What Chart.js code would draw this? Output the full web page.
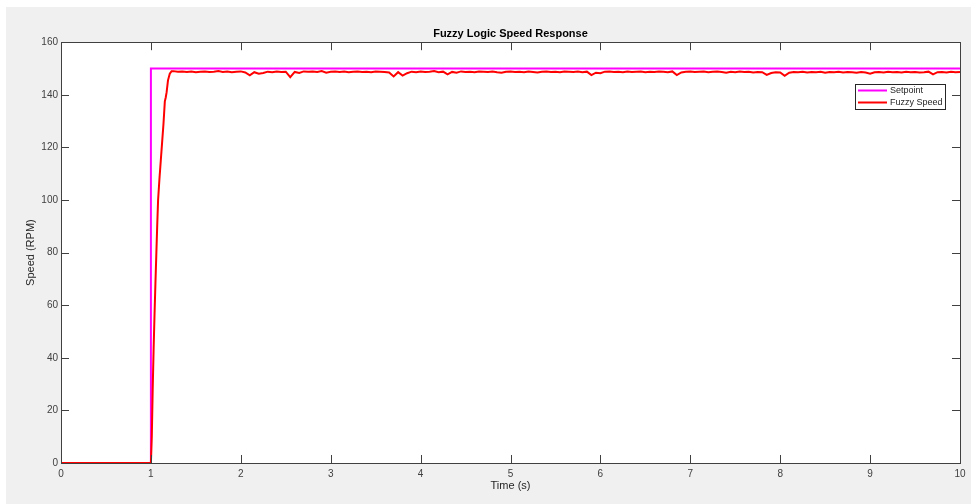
<!DOCTYPE html>
<html>
<head>
<meta charset="utf-8">
<script src="https://cdn.jsdelivr.net/npm/chart.js@4.4.1/dist/chart.umd.min.js"></script>
<style>
  body { margin: 0; background: #ffffff; }
  canvas { display: block; }
</style>
</head>
<body>
<canvas id="speedChart" width="971" height="504"></canvas>
<script>
// Setpoint (step at t = 1 s)
const setpointTime = [0, 1, 1, 10];
const setpointSpeed = [0, 0, 150, 150];

// Fuzzy speed - rise part
const riseTime = [0, 1.0, 1.01, 1.02, 1.03, 1.04, 1.05, 1.06, 1.07, 1.08, 1.095, 1.11, 1.125, 1.14, 1.155, 1.165, 1.175, 1.19, 1.21, 1.23];
const riseSpeed = [0, 0, 10, 28, 43, 56, 68, 79, 90, 100, 108, 115, 122, 129, 137.5, 139, 141, 145.5, 148, 149];

// Fuzzy speed - steady part, one sample every 0.05 s from 1.25 s
const steadyStart = 1.25;
const steadyStep = 0.05;
const steadySpeed = [
  149.0, 148.8, 148.9, 148.7, 148.9, 148.6, 148.8, 148.9, 148.7, 148.8, 149.0, 148.7, 148.9, 148.6, 148.8,
  148.9, 148.5, 147.4, 148.6, 148.0, 148.3, 148.8, 148.6, 148.9, 148.7, 148.8, 146.7, 148.7, 148.3, 148.9, 148.8, 148.9, 148.7, 149.0, 148.4,
  148.8, 148.9, 148.7, 148.9, 148.6, 148.8, 148.9, 148.7, 148.8, 148.6, 148.9, 148.8, 148.7, 148.5, 147.0, 148.6, 147.3, 148.2, 148.8, 148.6,
  148.9, 148.7, 148.8, 149.0, 148.6, 148.8, 147.8, 148.7, 148.4, 148.9, 148.7, 148.8, 148.6, 148.9, 148.8, 148.7, 148.9, 148.6, 148.4, 148.8,
  148.9, 148.7, 148.8, 148.6, 148.9, 148.7, 148.5, 148.8, 148.9, 148.7, 148.8, 148.6, 148.9, 148.8, 148.7, 148.9, 148.6, 148.8, 147.5, 148.4,
  148.2, 148.8, 148.9, 148.7, 148.8, 148.6, 148.9, 148.7, 148.8, 148.9, 148.6, 148.8, 148.7, 148.9, 148.8, 148.6, 148.9, 147.5, 148.5, 148.8,
  148.9, 148.7, 148.8, 148.9, 148.6, 148.8, 148.9, 148.7, 148.4, 148.8, 148.6, 148.9, 148.7, 148.8, 148.5, 148.7, 148.6, 147.6, 148.3, 148.6,
  148.5, 147.2, 148.4, 148.7, 148.6, 148.8, 148.5, 148.7, 148.6, 148.8, 148.4, 148.7, 148.6, 148.8, 148.5, 148.7, 148.6, 148.4, 148.7, 148.5,
  148.0, 148.6, 148.7, 148.5, 148.8, 148.6, 148.7, 148.5, 148.8, 148.6, 148.7, 148.5, 148.6, 148.8, 147.8, 148.6, 148.7, 148.5, 148.8, 148.6,
  148.7
];

const xTicks = [0, 1, 2, 3, 4, 5, 6, 7, 8, 9, 10];
const yTicks = [0, 20, 40, 60, 80, 100, 120, 140, 160];

const setpointData = setpointTime.map((t, i) => ({ x: t, y: setpointSpeed[i] }));
const fuzzyData = riseTime.map((t, i) => ({ x: t, y: riseSpeed[i] }));
steadySpeed.forEach((v, i) => {
  fuzzyData.push({ x: +(steadyStart + i * steadyStep).toFixed(2), y: v });
});

const axisColor = '#404040';
const textColor = '#262626';

// background: gray figure, white axes
const bgPlugin = {
  id: 'bg',
  beforeDraw(chart) {
    const { ctx, chartArea: a } = chart;
    ctx.save();
    ctx.fillStyle = '#ffffff';
    ctx.fillRect(0, 0, chart.width, chart.height);
    ctx.fillStyle = '#f0f0f0';
    ctx.fillRect(6, 7, chart.width - 6, chart.height - 7);
    ctx.fillStyle = '#ffffff';
    ctx.fillRect(a.left, a.top, a.right - a.left, a.bottom - a.top);
    ctx.restore();
  }
};

// box + inward tick marks on all four sides, and the legend
const boxPlugin = {
  id: 'box',
  afterDatasetsDraw(chart) {
    const { ctx, chartArea: a, scales } = chart;
    const len = 8;
    ctx.save();
    ctx.strokeStyle = axisColor;
    ctx.lineWidth = 1;
    ctx.beginPath();
    xTicks.forEach(v => {
      const px = Math.round(scales.x.getPixelForValue(v)) + 0.5;
      ctx.moveTo(px, a.bottom); ctx.lineTo(px, a.bottom - len);
      ctx.moveTo(px, a.top); ctx.lineTo(px, a.top + len);
    });
    yTicks.forEach(v => {
      const py = Math.round(scales.y.getPixelForValue(v)) + 0.5;
      ctx.moveTo(a.left, py); ctx.lineTo(a.left + len, py);
      ctx.moveTo(a.right, py); ctx.lineTo(a.right - len, py);
    });
    ctx.stroke();
    ctx.strokeRect(Math.round(a.left) + 0.5, Math.round(a.top) + 0.5,
      Math.round(a.right - a.left), Math.round(a.bottom - a.top));

    // legend
    const lx = 855, ly = 84, lw = 90, lh = 25;
    ctx.fillStyle = '#ffffff';
    ctx.fillRect(lx, ly, lw, lh);
    ctx.strokeStyle = '#262626';
    ctx.strokeRect(lx + 0.5, ly + 0.5, lw, lh);
    const items = [chart.data.datasets[0], chart.data.datasets[1]];
    ctx.font = '9px "Liberation Sans", Arial, sans-serif';
    ctx.textBaseline = 'middle';
    ctx.textAlign = 'left';
    items.forEach((ds, i) => {
      const y = ly + 6.5 + i * 12;
      ctx.strokeStyle = ds.borderColor;
      ctx.lineWidth = 2;
      ctx.beginPath();
      ctx.moveTo(lx + 3, y);
      ctx.lineTo(lx + 32, y);
      ctx.stroke();
      ctx.fillStyle = textColor;
      ctx.fillText(ds.label, lx + 35, y);
    });
    ctx.restore();
  }
};

new Chart(document.getElementById('speedChart'), {
  type: 'line',
  data: {
    datasets: [
      {
        label: 'Setpoint',
        data: setpointData,
        borderColor: '#ff00ff',
        borderWidth: 2,
        pointRadius: 0,
        tension: 0,
        order: 2,
        clip: false
      },
      {
        label: 'Fuzzy Speed',
        data: fuzzyData,
        borderColor: '#ff0000',
        borderWidth: 2,
        pointRadius: 0,
        tension: 0,
        order: 1,
        clip: false
      }
    ]
  },
  options: {
    responsive: false,
    animation: false,
    devicePixelRatio: 1,
    layout: { padding: { left: 0, right: 11, top: 0, bottom: 0 } },
    plugins: {
      legend: { display: false },
      tooltip: { enabled: false },
      title: {
        display: true,
        text: 'Fuzzy Logic Speed Response',
        fullSize: false,
        color: '#000000',
        font: { family: '"Liberation Sans", Arial, sans-serif', size: 11, weight: 'bold', lineHeight: 1.2 },
        padding: { top: 27, bottom: 2 }
      }
    },
    scales: {
      x: {
        type: 'linear',
        min: 0,
        max: 10,
        afterBuildTicks: s => { s.ticks = xTicks.map(v => ({ value: v })); },
        afterFit: s => { s.height = 41; },
        grid: { display: false, drawTicks: false },
        border: { display: false },
        ticks: {
          autoSkip: false,
          maxRotation: 0,
          padding: 5,
          color: '#404040',
          font: { family: '"Liberation Sans", Arial, sans-serif', size: 10 }
        },
        title: {
          display: true,
          text: 'Time (s)',
          color: textColor,
          font: { family: '"Liberation Sans", Arial, sans-serif', size: 11, lineHeight: 1.2 },
          padding: { top: 0, bottom: 11 }
        }
      },
      y: {
        min: 0,
        max: 160,
        afterBuildTicks: s => { s.ticks = yTicks.map(v => ({ value: v })); },
        afterFit: s => { s.width = 61; },
        grid: { display: false, drawTicks: false },
        border: { display: false },
        ticks: {
          autoSkip: false,
          padding: 3,
          color: '#404040',
          font: { family: '"Liberation Sans", Arial, sans-serif', size: 10 }
        },
        title: {
          display: true,
          text: 'Speed (RPM)',
          color: textColor,
          font: { family: '"Liberation Sans", Arial, sans-serif', size: 11, lineHeight: 1.2 },
          padding: { top: 24, bottom: 0 }
        }
      }
    }
  },
  plugins: [bgPlugin, boxPlugin]
});
</script>
</body>
</html>
